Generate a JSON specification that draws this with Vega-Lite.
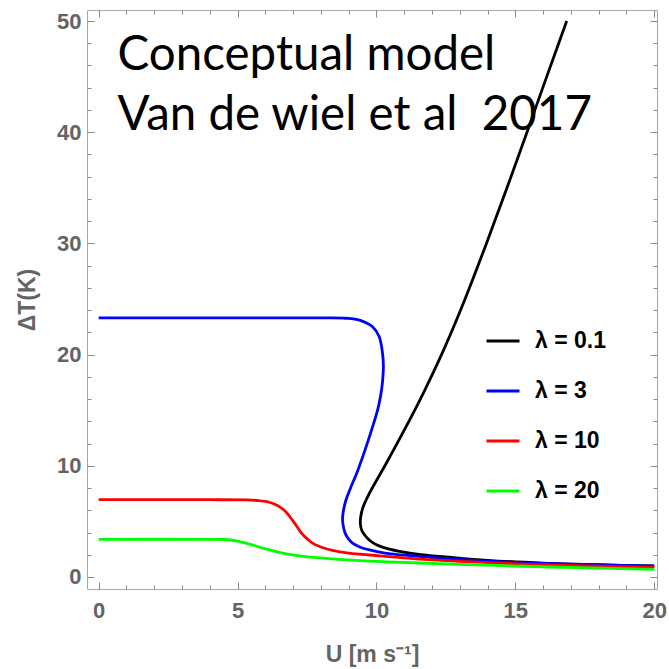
{
  "$schema": "https://vega.github.io/schema/vega-lite/v6.json",
  "width": 570,
  "height": 579,
  "autosize": {"type": "none"},
  "padding": {"left": 87, "top": 10, "right": 12, "bottom": 80},
  "config": {
    "view": {"stroke": "#a6a6a6", "strokeWidth": 1},
    "font": "Liberation Sans"
  },
  "resolve": {"axis": {"x": "independent", "y": "independent"}},
  "layer": [
    {
      "data": {"values": [
        {"lam": "λ = 0.1", "i": 0, "U": 16.85, "T": 50},
        {"lam": "λ = 0.1", "i": 1, "U": 16.13, "T": 45},
        {"lam": "λ = 0.1", "i": 2, "U": 15.42, "T": 40},
        {"lam": "λ = 0.1", "i": 3, "U": 14.7, "T": 35},
        {"lam": "λ = 0.1", "i": 4, "U": 13.96, "T": 30},
        {"lam": "λ = 0.1", "i": 5, "U": 13.19, "T": 25},
        {"lam": "λ = 0.1", "i": 6, "U": 12.78, "T": 22.5},
        {"lam": "λ = 0.1", "i": 7, "U": 12.29, "T": 19.7},
        {"lam": "λ = 0.1", "i": 8, "U": 11.68, "T": 16.5},
        {"lam": "λ = 0.1", "i": 9, "U": 11.0, "T": 13.2},
        {"lam": "λ = 0.1", "i": 10, "U": 10.36, "T": 10.25},
        {"lam": "λ = 0.1", "i": 11, "U": 9.75, "T": 7.55},
        {"lam": "λ = 0.1", "i": 12, "U": 9.52, "T": 6.3},
        {"lam": "λ = 0.1", "i": 13, "U": 9.44, "T": 5.5},
        {"lam": "λ = 0.1", "i": 14, "U": 9.42, "T": 4.85},
        {"lam": "λ = 0.1", "i": 15, "U": 9.47, "T": 4.2},
        {"lam": "λ = 0.1", "i": 16, "U": 9.57, "T": 3.8},
        {"lam": "λ = 0.1", "i": 17, "U": 9.75, "T": 3.3},
        {"lam": "λ = 0.1", "i": 18, "U": 10.0, "T": 2.9},
        {"lam": "λ = 0.1", "i": 19, "U": 10.4, "T": 2.55},
        {"lam": "λ = 0.1", "i": 20, "U": 10.94, "T": 2.25},
        {"lam": "λ = 0.1", "i": 21, "U": 11.6, "T": 2.0},
        {"lam": "λ = 0.1", "i": 22, "U": 12.5, "T": 1.8},
        {"lam": "λ = 0.1", "i": 23, "U": 14, "T": 1.5},
        {"lam": "λ = 0.1", "i": 24, "U": 16, "T": 1.25},
        {"lam": "λ = 0.1", "i": 25, "U": 18, "T": 1.1},
        {"lam": "λ = 0.1", "i": 26, "U": 20, "T": 0.99},
        {"lam": "λ = 3", "i": 0, "U": 0, "T": 23.3},
        {"lam": "λ = 3", "i": 1, "U": 4, "T": 23.3},
        {"lam": "λ = 3", "i": 2, "U": 8, "T": 23.3},
        {"lam": "λ = 3", "i": 3, "U": 8.9, "T": 23.27},
        {"lam": "λ = 3", "i": 4, "U": 9.39, "T": 23.1},
        {"lam": "λ = 3", "i": 5, "U": 9.86, "T": 22.5},
        {"lam": "λ = 3", "i": 6, "U": 10.1, "T": 21.6},
        {"lam": "λ = 3", "i": 7, "U": 10.22, "T": 20.1},
        {"lam": "λ = 3", "i": 8, "U": 10.25, "T": 18.9},
        {"lam": "λ = 3", "i": 9, "U": 10.22, "T": 17.6},
        {"lam": "λ = 3", "i": 10, "U": 10.15, "T": 16.3},
        {"lam": "λ = 3", "i": 11, "U": 10.04, "T": 15.0},
        {"lam": "λ = 3", "i": 12, "U": 9.86, "T": 13.5},
        {"lam": "λ = 3", "i": 13, "U": 9.6, "T": 11.5},
        {"lam": "λ = 3", "i": 14, "U": 9.3, "T": 9.4},
        {"lam": "λ = 3", "i": 15, "U": 9.05, "T": 7.9},
        {"lam": "λ = 3", "i": 16, "U": 8.9, "T": 6.9},
        {"lam": "λ = 3", "i": 17, "U": 8.8, "T": 5.8},
        {"lam": "λ = 3", "i": 18, "U": 8.78, "T": 5.1},
        {"lam": "λ = 3", "i": 19, "U": 8.82, "T": 4.4},
        {"lam": "λ = 3", "i": 20, "U": 8.88, "T": 3.9},
        {"lam": "λ = 3", "i": 21, "U": 9.0, "T": 3.4},
        {"lam": "λ = 3", "i": 22, "U": 9.14, "T": 3.05},
        {"lam": "λ = 3", "i": 23, "U": 9.4, "T": 2.7},
        {"lam": "λ = 3", "i": 24, "U": 9.75, "T": 2.43},
        {"lam": "λ = 3", "i": 25, "U": 10.3, "T": 2.15},
        {"lam": "λ = 3", "i": 26, "U": 10.94, "T": 1.98},
        {"lam": "λ = 3", "i": 27, "U": 12.5, "T": 1.65},
        {"lam": "λ = 3", "i": 28, "U": 14, "T": 1.42},
        {"lam": "λ = 3", "i": 29, "U": 16, "T": 1.22},
        {"lam": "λ = 3", "i": 30, "U": 18, "T": 1.09},
        {"lam": "λ = 3", "i": 31, "U": 20, "T": 0.98},
        {"lam": "λ = 10", "i": 0, "U": 0, "T": 6.95},
        {"lam": "λ = 10", "i": 1, "U": 4, "T": 6.95},
        {"lam": "λ = 10", "i": 2, "U": 5.3, "T": 6.93},
        {"lam": "λ = 10", "i": 3, "U": 5.7, "T": 6.88},
        {"lam": "λ = 10", "i": 4, "U": 6.15, "T": 6.72},
        {"lam": "λ = 10", "i": 5, "U": 6.45, "T": 6.4},
        {"lam": "λ = 10", "i": 6, "U": 6.7, "T": 5.95},
        {"lam": "λ = 10", "i": 7, "U": 6.98, "T": 5.1},
        {"lam": "λ = 10", "i": 8, "U": 7.15, "T": 4.5},
        {"lam": "λ = 10", "i": 9, "U": 7.3, "T": 3.95},
        {"lam": "λ = 10", "i": 10, "U": 7.5, "T": 3.45},
        {"lam": "λ = 10", "i": 11, "U": 7.7, "T": 3.05},
        {"lam": "λ = 10", "i": 12, "U": 8.0, "T": 2.7},
        {"lam": "λ = 10", "i": 13, "U": 8.42, "T": 2.4},
        {"lam": "λ = 10", "i": 14, "U": 9.0, "T": 2.15},
        {"lam": "λ = 10", "i": 15, "U": 9.4, "T": 2.05},
        {"lam": "λ = 10", "i": 16, "U": 10.1, "T": 1.9},
        {"lam": "λ = 10", "i": 17, "U": 11, "T": 1.72},
        {"lam": "λ = 10", "i": 18, "U": 12.5, "T": 1.47},
        {"lam": "λ = 10", "i": 19, "U": 14, "T": 1.3},
        {"lam": "λ = 10", "i": 20, "U": 16, "T": 1.1},
        {"lam": "λ = 10", "i": 21, "U": 18, "T": 0.97},
        {"lam": "λ = 10", "i": 22, "U": 20, "T": 0.87},
        {"lam": "λ = 20", "i": 0, "U": 0, "T": 3.39},
        {"lam": "λ = 20", "i": 1, "U": 4, "T": 3.39},
        {"lam": "λ = 20", "i": 2, "U": 4.5, "T": 3.37},
        {"lam": "λ = 20", "i": 3, "U": 4.96, "T": 3.25},
        {"lam": "λ = 20", "i": 4, "U": 5.54, "T": 2.88},
        {"lam": "λ = 20", "i": 5, "U": 6.15, "T": 2.43},
        {"lam": "λ = 20", "i": 6, "U": 6.76, "T": 2.07},
        {"lam": "λ = 20", "i": 7, "U": 7.3, "T": 1.88},
        {"lam": "λ = 20", "i": 8, "U": 7.95, "T": 1.72},
        {"lam": "λ = 20", "i": 9, "U": 9.4, "T": 1.47},
        {"lam": "λ = 20", "i": 10, "U": 10.4, "T": 1.36},
        {"lam": "λ = 20", "i": 11, "U": 12.5, "T": 1.18},
        {"lam": "λ = 20", "i": 12, "U": 14, "T": 1.06},
        {"lam": "λ = 20", "i": 13, "U": 16, "T": 0.92},
        {"lam": "λ = 20", "i": 14, "U": 18, "T": 0.8},
        {"lam": "λ = 20", "i": 15, "U": 20, "T": 0.69}
      ]},
      "mark": {"type": "line", "strokeWidth": 2.8, "interpolate": "catmull-rom", "clip": true},
      "encoding": {
        "x": {
          "field": "U", "type": "quantitative",
          "scale": {"domain": [-0.42, 20.1], "nice": false, "zero": false},
          "axis": {
            "orient": "bottom",
            "values": [0,1,2,3,4,5,6,7,8,9,10,11,12,13,14,15,16,17,18,19,20],
            "labelExpr": "datum.value % 5 === 0 ? datum.label : ''",
            "tickSize": {"condition": {"test": "datum.value % 5 === 0", "value": -7}, "value": -4},
            "tickColor": "#8c8c8c", "tickWidth": 1,
            "domain": false, "grid": false,
            "labelFont": "Liberation Sans", "labelFontWeight": "bold", "labelFontSize": 22,
            "labelColor": "#646464", "labelPadding": 18,
            "title": "U [m s⁻¹]",
            "titleFont": "Liberation Sans", "titleFontWeight": "bold", "titleFontSize": 23,
            "titleColor": "#646464", "titlePadding": 22
          }
        },
        "y": {
          "field": "T", "type": "quantitative",
          "scale": {"domain": [-1.08, 50.99], "nice": false, "zero": false},
          "axis": {
            "orient": "left",
            "values": [0,2,4,6,8,10,12,14,16,18,20,22,24,26,28,30,32,34,36,38,40,42,44,46,48,50],
            "labelExpr": "datum.value % 10 === 0 ? datum.label : ''",
            "tickSize": {"condition": {"test": "datum.value % 10 === 0", "value": -7}, "value": -4},
            "tickColor": "#8c8c8c", "tickWidth": 1,
            "domain": false, "grid": false,
            "labelFont": "Liberation Sans", "labelFontWeight": "bold", "labelFontSize": 22,
            "labelColor": "#646464", "labelPadding": 13,
            "title": "ΔT(K)",
            "titleFont": "Liberation Sans", "titleFontWeight": "bold", "titleFontSize": 23,
            "titleColor": "#646464", "titlePadding": 17
          }
        },
        "color": {
          "field": "lam", "type": "nominal",
          "scale": {"domain": ["λ = 0.1", "λ = 3", "λ = 10", "λ = 20"], "range": ["#000000", "#0000ff", "#ff0000", "#00ff00"]},
          "legend": {
            "title": null, "orient": "none", "legendX": 398, "legendY": 313,
            "symbolType": "stroke", "symbolSize": 1089, "symbolStrokeWidth": 2.8,
            "labelFont": "Liberation Sans", "labelFontWeight": "bold", "labelFontSize": 23,
            "labelColor": "#000000", "labelOffset": 14, "rowPadding": 20
          }
        },
        "order": {"field": "i", "type": "quantitative"}
      }
    },
    {
      "data": {"values": [{"U": 0.68, "T": 45.6, "label": ["Conceptual model", "Van de wiel et al\u00a0 2017"]}]},
      "mark": {"type": "text", "font": "Lato", "fontSize": 47.5, "lineHeight": 60, "align": "left", "baseline": "alphabetic", "color": "#000000"},
      "encoding": {
        "x": {
          "field": "U", "type": "quantitative",
          "scale": {"domain": [-0.42, 20.1], "nice": false, "zero": false},
          "axis": {
            "orient": "top",
            "values": [0,1,2,3,4,5,6,7,8,9,10,11,12,13,14,15,16,17,18,19,20],
            "labels": false, "title": null, "domain": false, "grid": false,
            "tickSize": {"condition": {"test": "datum.value % 5 === 0", "value": -7}, "value": -4},
            "tickColor": "#8c8c8c", "tickWidth": 1
          }
        },
        "y": {
          "field": "T", "type": "quantitative",
          "scale": {"domain": [-1.08, 50.99], "nice": false, "zero": false},
          "axis": {
            "orient": "right",
            "values": [0,2,4,6,8,10,12,14,16,18,20,22,24,26,28,30,32,34,36,38,40,42,44,46,48,50],
            "labels": false, "title": null, "domain": false, "grid": false,
            "tickSize": {"condition": {"test": "datum.value % 10 === 0", "value": -7}, "value": -4},
            "tickColor": "#8c8c8c", "tickWidth": 1
          }
        },
        "text": {"field": "label"}
      }
    }
  ]
}
